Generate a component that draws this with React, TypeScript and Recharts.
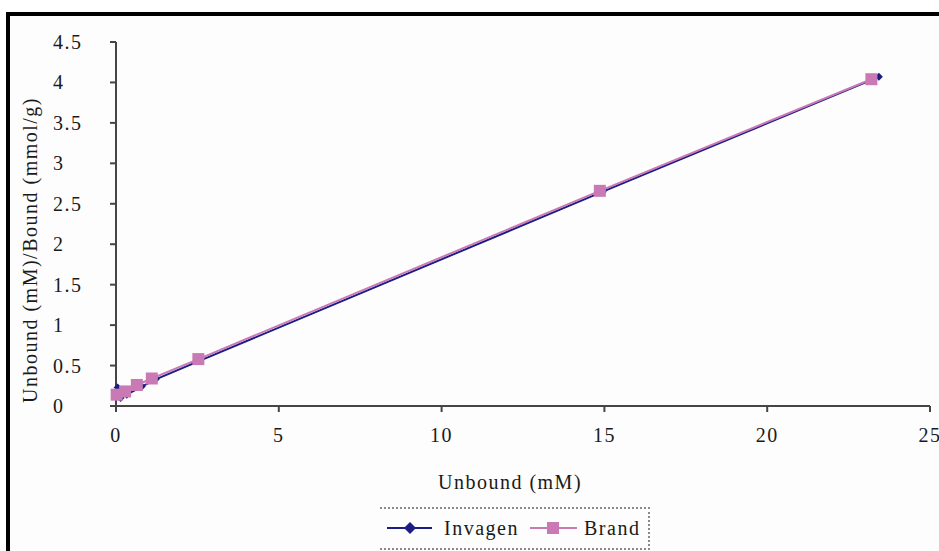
import React from "react";
import { ScatterChart, Scatter, XAxis, YAxis, Label } from "recharts";

// Unbound (mM) vs Unbound/Bound (mmol/g)
const invagenX = [0.05, 0.14, 0.33, 0.79, 1.22, 2.58, 14.95, 23.43];
const invagenY = [0.23, 0.1, 0.14, 0.24, 0.33, 0.56, 2.65, 4.07];
const brandX = [0.02, 0.28, 0.64, 1.1, 2.53, 14.86, 23.2];
const brandY = [0.14, 0.18, 0.26, 0.34, 0.58, 2.66, 4.04];

const xTicks = [0, 5, 10, 15, 20, 25];
const yTicks = [0, 0.5, 1, 1.5, 2, 2.5, 3, 3.5, 4, 4.5];

const invagen = invagenX.map((x, i) => ({ x, y: invagenY[i] }));
const brand = brandX.map((x, i) => ({ x, y: brandY[i] }));

const NAVY = "#1c1c86";
const PINK = "#c97ab5";
const AXIS = "#454545";
const TEXT = "#1a1a1a";
const FONT = "'Liberation Serif', 'Times New Roman', serif";

const Diamond = (props: any) => {
  const { cx, cy } = props;
  const r = 4;
  return <path d={`M${cx},${cy - r}L${cx + r},${cy}L${cx},${cy + r}L${cx - r},${cy}Z`} fill={NAVY} />;
};

const Square = (props: any) => {
  const { cx, cy } = props;
  return <rect x={cx - 6} y={cy - 6} width={12} height={12} fill={PINK} />;
};

const YTick = (props: any) => {
  const { y, payload } = props;
  return (
    <text x={53} y={y} dy="0.35em" textAnchor="start" fill={TEXT} fontSize={20} fontFamily={FONT} letterSpacing={1.5}>
      {payload.value}
    </text>
  );
};

export default function App() {
  return (
    <div style={{ position: "fixed", left: 0, top: 0, width: 939, height: 551, overflow: "hidden", background: "#fff" }}>
      <div
        style={{
          position: "absolute", left: 6, top: 12, width: 1000, height: 600,
          borderTop: "4px solid #000", borderLeft: "4px solid #000", background: "#fdfdfd",
        }}
      />
      <div style={{ position: "absolute", left: 0, top: 0 }}>
        <ScatterChart width={939} height={551} margin={{ top: 42, right: 9, bottom: 0, left: 0 }}>
          <XAxis
            type="number" dataKey="x" domain={[0, 25]} ticks={xTicks} interval={0}
            height={145} tickSize={6} tickMargin={16}
            axisLine={{ stroke: AXIS, strokeWidth: 2 }} tickLine={{ stroke: AXIS, strokeWidth: 2 }}
            tick={{ fill: TEXT, fontSize: 20, fontFamily: FONT, letterSpacing: 1.5 }}
          >
            <Label
              content={() => (
                <text x={510} y={489} textAnchor="middle" fill={TEXT} fontSize={20} fontFamily={FONT} letterSpacing={1.5}>
                  Unbound (mM)
                </text>
              )}
            />
          </XAxis>
          <YAxis
            type="number" dataKey="y" domain={[0, 4.5]} ticks={yTicks} interval={0}
            width={116} tickSize={6}
            axisLine={{ stroke: AXIS, strokeWidth: 2 }} tickLine={{ stroke: AXIS, strokeWidth: 2 }}
            tick={<YTick />}
          >
            <Label
              content={() => (
                <text transform="translate(37,250) rotate(-90)" textAnchor="middle" fill={TEXT} fontSize={20} fontFamily={FONT} letterSpacing={1.5}>
                  Unbound (mM)/Bound (mmol/g)
                </text>
              )}
            />
          </YAxis>
          <Scatter name="Invagen" data={invagen} line={{ stroke: NAVY, strokeWidth: 2 }} shape={<Diamond />} isAnimationActive={false} />
          <Scatter name="Brand" data={brand} line={{ stroke: PINK, strokeWidth: 2 }} shape={<Square />} isAnimationActive={false} />
        </ScatterChart>
      </div>
      <div
        style={{
          position: "absolute", left: 380, top: 507, width: 268, height: 39,
          borderTop: "2px dotted #8a8a8a", borderRight: "2px dotted #8a8a8a", borderBottom: "2px dotted #8a8a8a",
        }}
      >
        <svg width={268} height={39} style={{ position: "absolute", left: 0, top: 0 }}>
          <line x1={7} x2={52} y1={19} y2={19} stroke={NAVY} strokeWidth={2} />
          <path d="M30,13L36,19L30,25L24,19Z" fill={NAVY} />
          <text x={64} y={26} fill={TEXT} fontSize={20} fontFamily={FONT} letterSpacing={1.5}>Invagen</text>
          <line x1={150} x2={197} y1={19} y2={19} stroke={PINK} strokeWidth={2} />
          <rect x={167} y={13} width={12} height={12} fill={PINK} />
          <text x={204} y={26} fill={TEXT} fontSize={20} fontFamily={FONT} letterSpacing={1.5}>Brand</text>
        </svg>
      </div>
    </div>
  );
}
